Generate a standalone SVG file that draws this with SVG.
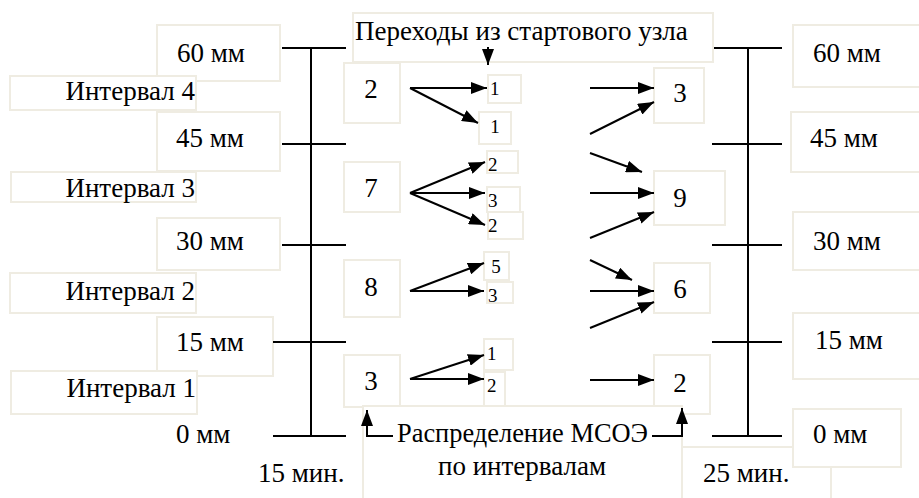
<svg xmlns="http://www.w3.org/2000/svg" width="919" height="498" viewBox="0 0 919 498">
<style>
.box{fill:#fff;stroke:#EFECE2;stroke-width:2}
.t{font-family:"Liberation Serif","Times New Roman",serif;font-size:27px;fill:#000}
.s{font-family:"Liberation Serif","Times New Roman",serif;font-size:19px;fill:#000}
.m{text-anchor:middle}
.e{text-anchor:end}
.ln{stroke:#000;stroke-width:2;fill:none}
.ar{stroke:#000;stroke-width:2;fill:none;marker-end:url(#ah)}
</style>
<defs>
<marker id="ah" viewBox="0 0 16 12" refX="16" refY="6" markerWidth="16" markerHeight="12" markerUnits="userSpaceOnUse" orient="auto">
<path d="M0,0 L16,6 L0,12 z" fill="#000"/>
</marker>
</defs>
<rect width="919" height="498" fill="#fff"/>

<!-- left scale labels -->
<g id="l60"><rect class="box" x="157" y="25" width="123" height="56"/><text class="t" x="177" y="62">60 мм</text></g>
<g id="int4"><rect class="box" x="10" y="76" width="186" height="34"/><text class="t e" x="195" y="100">Интервал 4</text></g>
<g id="l45"><rect class="box" x="157" y="112" width="123" height="59"/><text class="t" x="176" y="147">45 мм</text></g>
<g id="int3"><rect class="box" x="11" y="172" width="185" height="30"/><text class="t e" x="195" y="197">Интервал 3</text></g>
<g id="l30"><rect class="box" x="157" y="218" width="123" height="52"/><text class="t" x="176" y="250">30 мм</text></g>
<g id="int2"><rect class="box" x="10" y="273" width="186" height="40"/><text class="t e" x="195" y="300">Интервал 2</text></g>
<g id="l15"><rect class="box" x="157" y="317" width="116" height="59"/><text class="t" x="176" y="351">15 мм</text></g>
<g id="int1"><rect class="box" x="11" y="371" width="186" height="43"/><text class="t e" x="196" y="397">Интервал 1</text></g>
<g id="l0"><text class="t" x="176" y="443">0 мм</text></g>
<g id="t15"><text class="t" x="258" y="482">15 мин.</text></g>

<!-- right scale labels -->
<g id="r60"><rect class="box" x="793" y="25" width="130" height="62"/><text class="t" x="813" y="62">60 мм</text></g>
<g id="r45"><rect class="box" x="791" y="112" width="132" height="60"/><text class="t" x="810" y="147">45 мм</text></g>
<g id="r30"><rect class="box" x="793" y="212" width="130" height="58"/><text class="t" x="813" y="250">30 мм</text></g>
<g id="r15"><rect class="box" x="793" y="313" width="130" height="66"/><text class="t" x="815" y="349">15 мм</text></g>
<g id="t25"><rect class="box" x="682" y="447" width="149" height="60"/><text class="t" x="703" y="482">25 мин.</text></g>
<g id="r0"><rect class="box" x="793" y="409" width="108" height="58"/><text class="t" x="813" y="443">0 мм</text></g>

<!-- title -->
<g id="title"><rect class="box" x="353" y="13" width="360" height="49"/><text class="t" x="355" y="40">Переходы из стартового узла</text></g>

<!-- left nodes -->
<g id="n2"><rect class="box" x="344" y="63" width="56" height="60"/><text class="t m" x="371" y="98">2</text></g>
<g id="n7"><rect class="box" x="344" y="162" width="56" height="50"/><text class="t m" x="371" y="197">7</text></g>
<g id="n8"><rect class="box" x="344" y="260" width="56" height="57"/><text class="t m" x="371" y="296">8</text></g>
<g id="n3"><rect class="box" x="344" y="355" width="56" height="52"/><text class="t m" x="371" y="390">3</text></g>

<!-- small count boxes -->
<g id="c1a"><rect class="box" x="488" y="75" width="33" height="28"/><text class="s" x="490" y="95">1</text></g>
<g id="c1b"><rect class="box" x="479" y="112" width="32" height="32"/><text class="s m" x="495" y="133">1</text></g>
<g id="c2a"><rect class="box" x="487" y="151" width="31" height="22"/><text class="s" x="488" y="171">2</text></g>
<g id="c3a"><rect class="box" x="487" y="187" width="33" height="25"/><text class="s" x="488" y="207">3</text></g>
<g id="c2b"><rect class="box" x="488" y="212" width="35" height="27"/><text class="s" x="488" y="232">2</text></g>
<g id="c5"><rect class="box" x="484" y="252" width="25" height="28"/><text class="s m" x="496" y="273">5</text></g>
<g id="c3b"><rect class="box" x="487" y="282" width="26" height="21"/><text class="s" x="488" y="302">3</text></g>
<g id="c1c"><rect class="box" x="484" y="339" width="29" height="31"/><text class="s" x="487" y="360">1</text></g>
<g id="c2c"><rect class="box" x="484" y="372" width="21" height="35"/><text class="s" x="487" y="392">2</text></g>

<!-- right nodes -->
<g id="m3"><rect class="box" x="654" y="68" width="50" height="55"/><text class="t m" x="680" y="102">3</text></g>
<g id="m9"><rect class="box" x="654" y="171" width="71" height="54"/><text class="t m" x="680" y="207">9</text></g>
<g id="m6"><rect class="box" x="654" y="263" width="56" height="50"/><text class="t m" x="680" y="298">6</text></g>
<g id="m2"><rect class="box" x="654" y="355" width="56" height="59"/><text class="t m" x="680" y="392">2</text></g>

<!-- bottom label -->
<g id="dist"><rect class="box" x="363" y="406" width="319" height="100"/>
<text class="t" x="397" y="442" textLength="251" lengthAdjust="spacingAndGlyphs">Распределение МСОЭ</text>
<text class="t m" x="522" y="475">по интервалам</text></g>

<g id="connectors">
<!-- left axis -->
<line class="ln" x1="311" y1="48" x2="311" y2="437"/>
<line class="ln" x1="282" y1="48" x2="346" y2="48"/>
<line class="ln" x1="282" y1="144" x2="346" y2="144"/>
<line class="ln" x1="282" y1="245" x2="346" y2="245"/>
<line class="ln" x1="273" y1="342" x2="346" y2="342"/>
<line class="ln" x1="273" y1="436" x2="346" y2="436"/>
<!-- right axis -->
<line class="ln" x1="748" y1="48" x2="748" y2="437"/>
<line class="ln" x1="714" y1="48" x2="782" y2="48"/>
<line class="ln" x1="712" y1="144" x2="782" y2="144"/>
<line class="ln" x1="712" y1="245" x2="782" y2="245"/>
<line class="ln" x1="712" y1="342" x2="782" y2="342"/>
<line class="ln" x1="712" y1="436" x2="782" y2="436"/>
<!-- title arrow -->
<line class="ar" x1="488" y1="47" x2="488" y2="65"/>
<!-- from left nodes -->
<line class="ar" x1="410" y1="88" x2="487" y2="88"/>
<line class="ar" x1="410" y1="88" x2="478" y2="123"/>
<line class="ar" x1="410" y1="193" x2="485" y2="162"/>
<line class="ar" x1="410" y1="193" x2="485" y2="193"/>
<line class="ar" x1="410" y1="193" x2="485" y2="225"/>
<line class="ar" x1="410" y1="291" x2="484" y2="263"/>
<line class="ar" x1="410" y1="291" x2="484" y2="291"/>
<line class="ar" x1="410" y1="379" x2="484" y2="355"/>
<line class="ar" x1="410" y1="379" x2="484" y2="379"/>
<!-- into right nodes -->
<line class="ar" x1="590" y1="88" x2="654" y2="88"/>
<line class="ar" x1="590" y1="134" x2="654" y2="102"/>
<line class="ar" x1="590" y1="153" x2="642" y2="172"/>
<line class="ar" x1="590" y1="193" x2="654" y2="193"/>
<line class="ar" x1="590" y1="238" x2="654" y2="212"/>
<line class="ar" x1="590" y1="260" x2="632" y2="280"/>
<line class="ar" x1="590" y1="291" x2="654" y2="291"/>
<line class="ar" x1="590" y1="328" x2="654" y2="302"/>
<line class="ar" x1="590" y1="380" x2="654" y2="380"/>
<!-- distribution brackets -->
<polyline class="ar" points="393,436 367,436 367,410"/>
<polyline class="ar" points="652,436 682,436 682,408"/>
</g>
</svg>
